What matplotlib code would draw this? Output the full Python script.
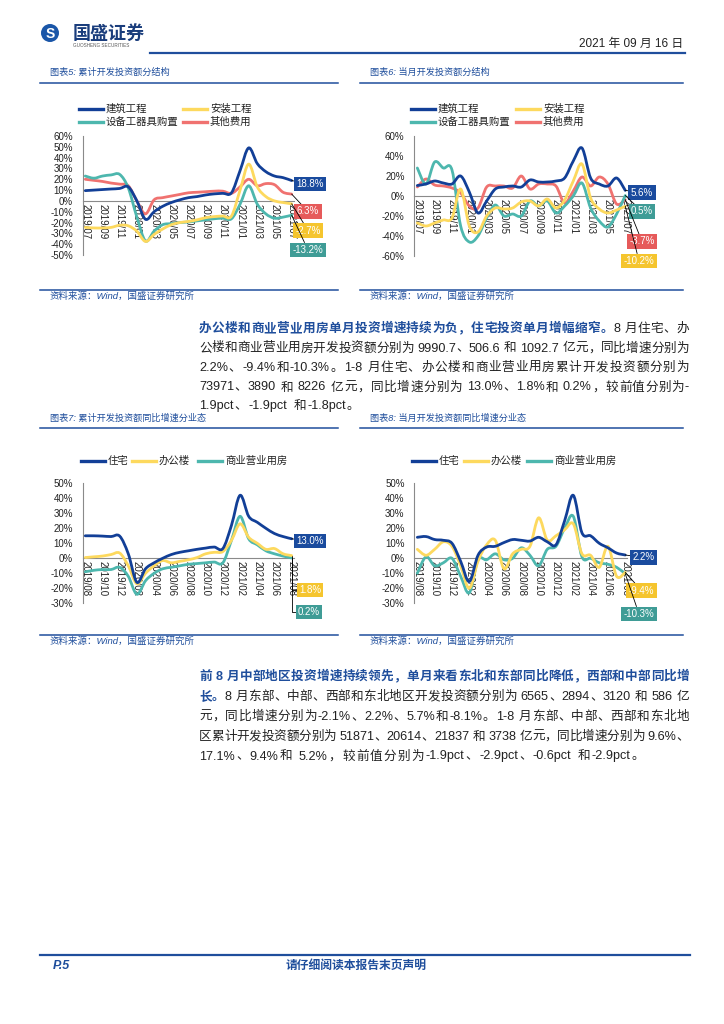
import numpy as np
import pandas as pd
import matplotlib
matplotlib.use('Agg')
import matplotlib.pyplot as plt
from matplotlib.path import Path
from matplotlib.patches import PathPatch, Ellipse
from matplotlib.lines import Line2D

plt.rcParams['font.family'] = ['Liberation Sans', 'Noto Sans CJK SC']

W, H = 724, 1024

# 月份标签
months_a = list(pd.period_range('2019-07', '2021-07', freq='M').strftime('%Y/%m'))
months_b = list(pd.period_range('2019-08', '2021-08', freq='M').strftime('%Y/%m'))

# 图表5: 累计开发投资额分结构 (%)
build_cum = [9.5, 10, 10.5, 11, 11.5, 13, 0, -17, -10, -5, -1.5, 1, 3, 4, 5.5, 6.5, 7, 7.5,
             28, 49, 34.5, 27, 23, 21.5, 18.8]
install_cum = [-24.5, -25, -25, -24.5, -22.5, -23, -28, -37.5, -31, -26, -22, -20, -19, -17.5,
               -15.5, -14.5, -14, -14, 10, 34, 13, 4, 0, -1.5, -2.7]
equip_cum = [23, 21, 23, 24, 24.5, 12, -15, -37, -28, -22, -21, -20, -19.5, -18.5, -17.5, -16.5,
             -16, -16.5, -3, 14, -3, -12, -16, -15, -13.2]
other_cum = [20, 19, 18, 16.5, 15.5, 14, 0, -12, 1, 3, 4.5, 6, 7.5, 8, 8.5, 9, 9, 7,
             13, 20, 14, 16, 15, 8, 6.3]

# 图表6: 当月开发投资额分结构 (%)
build_mon = [10.5, 12, 15, 13, 12, 20, 4, -17, -5, 7, 9, 10, 9, 16, 14, 14, 15, 18,
             35, 48, 18, 12, 10, 18, 5.6]
install_mon = [-27, -30, -27, -24, -22, 7, -30, -36, -20, -12, -13, -12, -6, -5, -10, -3, -12, -4,
               15, 32, -2, -13, -17, -14, -10.2]
equip_mon = [28, 12, 34, 28, 26, -30, -46, -40, -22, -9, -20, -18, -20, -5, -10, -5, -17, -10,
             0, 13, -12, -25, -31, -18, 0.5]
other_mon = [9, 17, 11, 10, 8, 3, -10, -12, 9, 10, 10, 8, 20, 7, 12, 12, 10, -7,
             5, 19, 10, 19, 12, -8, -3.7]

# 图表7: 累计开发投资额同比增速分业态 (%)
res_cum = [15, 15, 14.8, 14.5, 14.8, 3, -16, -7, -3, 0, 2.5, 4, 5, 6, 6.8, 7.5, 6.5,
           22, 42, 28, 24, 20, 16.5, 14.5, 13.0]
office_cum = [0.5, 1, 1.5, 2.5, 3.5, -5, -17, -10, -5, -1.5, -3, -2, -1, 0.5, 3, 4, 4.5,
              12, 23, 14, 10, 6, 6.5, 3, 1.8]
comm_cum = [-9, -8, -7.5, -7.5, -6, -12, -24, -15, -10, -7, -6, -5, -4, -3.5, -3, -2.5, -3,
            12, 28, 13, 9, 5, 3, 1.5, 0.2]

# 图表8: 当月开发投资额同比增速分业态 (%)
res_mon = [14, 14.5, 12.5, 12, 10, -2, -15.5, 2, 7.5, 8, 10.5, 12.5, 12, 11.5, 14, 11, 9,
           25, 42, 17, 15, 10, 7, 3.5, 2.2]
office_mon = [6, 2, 6, 11, 8, -5, -20, -2, 9, 12, -7, 3, 6, 8, 27, 12, 15,
              19, 23, 3, 2, -6, 8, -12, -9.4]
comm_mon = [-10, 1, -5, -3, 0, -12, -23, -1, -1, 3, -1, 0, 7, 2, -5, 6, 8,
            20, 28, 1, 0, -3, -4, -6, -10.3]

BLUE = '#123F97'
YELLOW = '#FDD95E'
TEAL = '#4DB7AE'
RED = '#F07270'
BOX = {BLUE: '#1A4B9E', YELLOW: '#F5C52E', TEAL: '#3F9C96', RED: '#E65A5A'}
TXTBLUE = '#1F4E9C'

fig = plt.figure(figsize=(W / 100, H / 100), dpi=100)


def add_ax(x0, y0, x1, y1):
    return fig.add_axes([x0 / W, 1 - y1 / H, (x1 - x0) / W, (y1 - y0) / H])


def hline(x0, x1, y, lw=1.0, color=TXTBLUE):
    fig.add_artist(Line2D([x0 / W, x1 / W], [1 - y / H, 1 - y / H], color=color, lw=lw,
                          transform=fig.transFigure))


def smooth(ax, y, color, lw=2.0):
    # 平滑折线 (Catmull-Rom -> Bezier)
    pts = np.column_stack([np.arange(len(y), dtype=float), np.asarray(y, dtype=float)])
    ext = np.vstack([pts[0], pts, pts[-1]])
    verts = [pts[0]]
    codes = [Path.MOVETO]
    for i in range(len(pts) - 1):
        p0, p1, p2, p3 = ext[i], ext[i + 1], ext[i + 2], ext[i + 3]
        verts += [p1 + (p2 - p0) / 6, p2 - (p3 - p1) / 6, p2]
        codes += [Path.CURVE4] * 3
    ax.add_patch(PathPatch(Path(verts, codes), fill=False, ec=color, lw=lw, zorder=3,
                           capstyle='round', joinstyle='round'))


def chart(box, xlim, ylim, yticks, labels, series, colors):
    ax = add_ax(*box)
    for s, c in zip(series, colors):
        smooth(ax, s, c)
    ax.set_xlim(xlim)
    ax.set_ylim(ylim)
    for sp in ['top', 'right']:
        ax.spines[sp].set_visible(False)
    ax.spines['bottom'].set_position(('data', 0))
    for sp in ['left', 'bottom']:
        ax.spines[sp].set_color('#8a8a8a')
        ax.spines[sp].set_linewidth(0.8)
    ax.set_yticks(yticks)
    ax.set_yticklabels([f'{v}%' for v in yticks])
    ax.set_xticks(range(0, len(labels), 2))
    ax.set_xticklabels(labels[::2], rotation=-90)
    ax.tick_params(axis='y', length=0, pad=7, labelsize=7, colors='#222222')
    ax.tick_params(axis='x', length=0, pad=2, labelsize=7, colors='#222222')
    ax.patch.set_alpha(0)
    return ax


def tag(ax, series, color, px, py, elbow=False):
    n = len(series) - 1
    cs = 'angle,angleA=0,angleB=90,rad=0' if elbow else 'arc3'
    ax.annotate(f'{series[-1]:.1f}%', xy=(n, series[-1]), xycoords='data',
                xytext=(px, H - py), textcoords='figure pixels', ha='center', va='center',
                fontsize=7, color='white', annotation_clip=False, zorder=5,
                bbox=dict(boxstyle='square,pad=0.25', fc=BOX[color], ec='none'),
                arrowprops=dict(arrowstyle='-', color='black', lw=0.6, shrinkA=0, shrinkB=0,
                                connectionstyle=cs))


def legend_item(x, y, color, text):
    fig.add_artist(Line2D([x / W, (x + 24) / W], [1 - y / H, 1 - y / H], color=color, lw=2.4,
                          transform=fig.transFigure))
    fig.text((x + 27) / W, 1 - y / H, text, fontsize=7.5, va='center', ha='left', color='#222222')


def text_line(x0, x1, y, runs, justify=True, size=9.1):
    toks = []
    for s, bold, color in runs:
        buf = ''
        for ch in s:
            if ch == ' ' or ord(ch) >= 128:
                if buf:
                    toks.append((buf, bold, color))
                    buf = ''
                toks.append((ch, bold, color))
            else:
                buf += ch
        if buf:
            toks.append((buf, bold, color))
    r = fig.canvas.get_renderer()
    arts, widths = [], []
    for t, bold, color in toks:
        if t == ' ':
            arts.append(None)
            widths.append(size * 100 / 72 * 0.28)
            continue
        a = fig.text(0, 1 - y / H, t, fontsize=size, fontweight='bold' if bold else 'normal',
                     color=color, va='center', ha='left')
        arts.append(a)
        widths.append(a.get_window_extent(r).width)
    gap = (x1 - x0 - sum(widths)) / (len(toks) - 1) if justify else 1.2
    x = x0
    for a, w in zip(arts, widths):
        if a is not None:
            a.set_x(x / W)
        x += w + gap


# 页眉
fig.add_artist(Ellipse((50 / W, 1 - 33 / H), 18 / W, 18 / H, transform=fig.transFigure,
                       fc='#1A56A8', ec='none'))
fig.text(50 / W, 1 - 33.5 / H, 'S', fontsize=10, fontweight='bold', color='white',
         ha='center', va='center')
fig.text(73 / W, 1 - 34 / H, '国盛证券', fontsize=13, fontweight='bold', color='#1A3D7C',
         ha='left', va='center')
fig.text(73 / W, 1 - 45.5 / H, 'GUOSHENG SECURITIES', fontsize=3.3, color='#555555',
         ha='left', va='center')
fig.text(683 / W, 1 - 44 / H, '2021 年 09 月 16 日', fontsize=8.5, color='#222222',
         ha='right', va='center')
hline(150, 685, 52.7, lw=1.6)

# 图表标题与来源
for x0, x1, ty, ly, sy, sly, title in [
        (40, 338, 72, 83, 296, 290, '图表5: 累计开发投资额分结构'),
        (360, 683, 72, 83, 296, 290, '图表6: 当月开发投资额分结构'),
        (40, 338, 418, 428, 641, 635, '图表7: 累计开发投资额同比增速分业态'),
        (360, 683, 418, 428, 641, 635, '图表8: 当月开发投资额同比增速分业态')]:
    fig.text((x0 + 10) / W, 1 - ty / H, title, fontsize=6.6, color=TXTBLUE, style='italic',
             ha='left', va='center')
    hline(x0, x1, ly, lw=1.1)
    hline(x0, x1, sly, lw=1.1)
    fig.text((x0 + 10) / W, 1 - sy / H, '资料来源：Wind，国盛证券研究所', fontsize=6.8,
             color=TXTBLUE, style='italic', ha='left', va='center')

# 图表5
ax5 = chart((82.7, 136, 294, 255), (-0.3, 24.27), (-50, 60), list(range(-50, 61, 10)), months_a,
            [other_cum, equip_cum, install_cum, build_cum], [RED, TEAL, YELLOW, BLUE])
tag(ax5, build_cum, BLUE, 310, 184)
tag(ax5, other_cum, RED, 308, 211.5)
tag(ax5, install_cum, YELLOW, 308, 230.5)
tag(ax5, equip_cum, TEAL, 308, 250)
legend_item(79, 109, BLUE, '建筑工程')
legend_item(183, 109, YELLOW, '安装工程')
legend_item(79, 122, TEAL, '设备工器具购置')
legend_item(183, 122, RED, '其他费用')

# 图表6
ax6 = chart((414.3, 136, 627, 256), (-0.35, 24.2), (-60, 60), list(range(-60, 61, 20)), months_a,
            [other_mon, equip_mon, install_mon, build_mon], [RED, TEAL, YELLOW, BLUE])
tag(ax6, build_mon, BLUE, 642, 192.5)
tag(ax6, equip_mon, TEAL, 642, 211.5)
tag(ax6, other_mon, RED, 642, 241.5)
tag(ax6, install_mon, YELLOW, 639, 261)
legend_item(411, 109, BLUE, '建筑工程')
legend_item(516, 109, YELLOW, '安装工程')
legend_item(411, 122, TEAL, '设备工器具购置')
legend_item(516, 122, RED, '其他费用')

# 图表7
ax7 = chart((82.7, 483.3, 294, 603.3), (-0.3, 24.27), (-30, 50), list(range(-30, 51, 10)), months_b,
            [comm_cum, office_cum, res_cum], [TEAL, YELLOW, BLUE])
tag(ax7, res_cum, BLUE, 310, 541)
tag(ax7, office_cum, YELLOW, 310, 590, elbow=True)
tag(ax7, comm_cum, TEAL, 309, 612, elbow=True)
legend_item(81, 461, BLUE, '住宅')
legend_item(132, 461, YELLOW, '办公楼')
legend_item(198, 461, TEAL, '商业营业用房')

# 图表8
ax8 = chart((414.3, 483.3, 627, 603.3), (-0.35, 24.2), (-30, 50), list(range(-30, 51, 10)), months_b,
            [comm_mon, office_mon, res_mon], [TEAL, YELLOW, BLUE])
tag(ax8, res_mon, BLUE, 643.5, 557.5)
tag(ax8, office_mon, YELLOW, 641.5, 590.5)
tag(ax8, comm_mon, TEAL, 639, 614)
legend_item(412, 461, BLUE, '住宅')
legend_item(464, 461, YELLOW, '办公楼')
legend_item(527, 461, TEAL, '商业营业用房')

# 正文
K = '#222222'
para1 = [
    [('办公楼和商业营业用房单月投资增速持续为负，住宅投资单月增幅缩窄。', True, TXTBLUE),
     ('8 月住宅、办', False, K)],
    [('公楼和商业营业用房开发投资额分别为 9990.7、506.6 和 1092.7 亿元，同比增速分别为', False, K)],
    [('2.2%、-9.4%和-10.3%。1-8 月住宅、办公楼和商业营业用房累计开发投资额分别为', False, K)],
    [('73971、3890 和 8226 亿元，同比增速分别为 13.0%、1.8%和 0.2%，较前值分别为-', False, K)],
    [('1.9pct、-1.9pct 和-1.8pct。', False, K)],
]
para2 = [
    [('前 8 月中部地区投资增速持续领先，单月来看东北和东部同比降低，西部和中部同比增', True, TXTBLUE)],
    [('长。', True, TXTBLUE),
     ('8 月东部、中部、西部和东北地区开发投资额分别为 6565、2894、3120 和 586 亿', False, K)],
    [('元，同比增速分别为-2.1%、2.2%、5.7%和-8.1%。1-8 月东部、中部、西部和东北地', False, K)],
    [('区累计开发投资额分别为 51871、20614、21837 和 3738 亿元，同比增速分别为 9.6%、', False, K)],
    [('17.1%、9.4%和 5.2%，较前值分别为-1.9pct、-2.9pct、-0.6pct 和-2.9pct。', False, K)],
]
for ys, para in [([329, 348.5, 368, 387.5, 406.5], para1), ([677, 697, 717, 737, 756.5], para2)]:
    for i, (y, runs) in enumerate(zip(ys, para)):
        text_line(199, 689, y, runs, justify=(i < len(para) - 1))

# 页脚
hline(40, 690, 955, lw=1.6)
fig.text(53 / W, 1 - 966 / H, 'P.5', fontsize=9, fontweight='bold', style='italic',
         color=TXTBLUE, ha='left', va='center')
fig.text(356 / W, 1 - 966 / H, '请仔细阅读本报告末页声明', fontsize=8.5, fontweight='bold',
         color=TXTBLUE, ha='center', va='center')

fig.savefig('out.png', dpi=100)
